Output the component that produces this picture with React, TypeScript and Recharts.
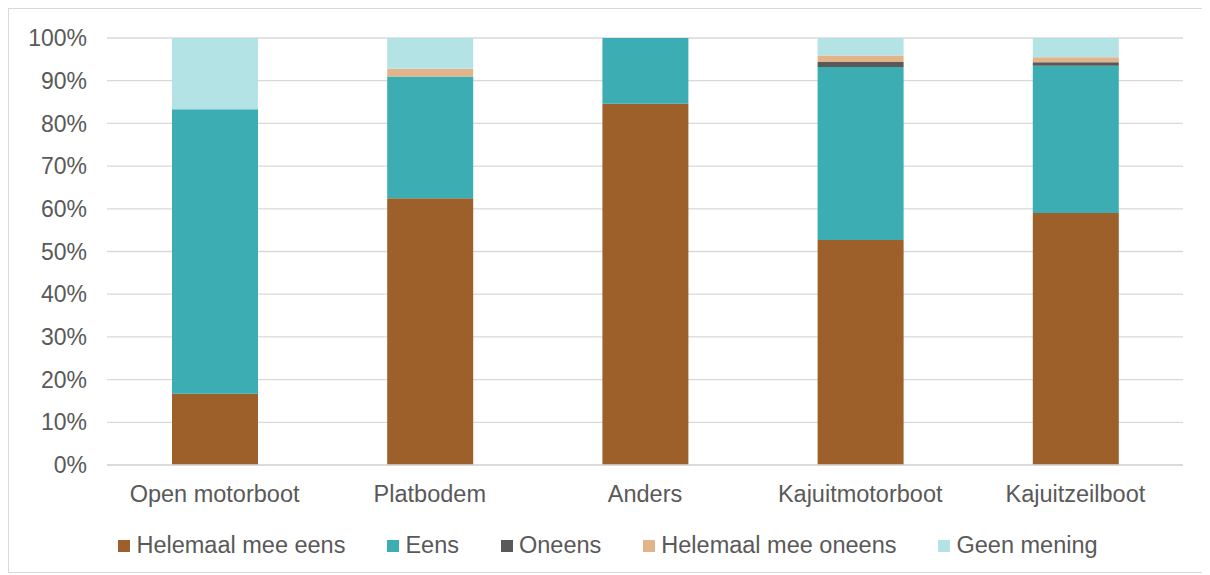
import React from "react";
import { BarChart, Bar, XAxis, YAxis, CartesianGrid, Legend } from "recharts";

const categories = ["Open motorboot", "Platbodem", "Anders", "Kajuitmotorboot", "Kajuitzeilboot"];
const helemaalEens = [16.7, 62.5, 84.6, 52.7, 59.0];
const eens = [66.6, 28.5, 15.4, 40.5, 34.5];
const oneens = [0, 0, 0, 1.2, 0.8];
const helemaalOneens = [0, 1.8, 0, 1.5, 1.2];
const geenMening = [16.7, 7.2, 0, 4.1, 4.5];
const yTicks = [0, 10, 20, 30, 40, 50, 60, 70, 80, 90, 100];

const seriesNames = ["Helemaal mee eens", "Eens", "Oneens", "Helemaal mee oneens", "Geen mening"];
const colors = ["#9E602A", "#3BADB3", "#595959", "#E2B48C", "#B4E3E5"];
const keys = ["a", "b", "c", "d", "e"];

const data = categories.map((name, i) => ({
  name,
  a: helemaalEens[i],
  b: eens[i],
  c: oneens[i],
  d: helemaalOneens[i],
  e: geenMening[i],
}));

const font = "'Liberation Sans', Arial, sans-serif";
const textColor = "#595959";

const LegendContent = () => (
  <div
    style={{
      display: "flex",
      justifyContent: "center",
      alignItems: "center",
      gap: 42,
      fontFamily: font,
      fontSize: 23.5,
      color: textColor,
      paddingLeft: 24,
      paddingTop: 17,
    }}
  >
    {seriesNames.map((n, i) => (
      <div key={n} style={{ display: "flex", alignItems: "center" }}>
        <span style={{ display: "inline-block", width: 12, height: 12, background: colors[i], marginRight: 6 }} />
        <span>{n}</span>
      </div>
    ))}
  </div>
);

export default function App() {
  return (
    <div style={{ width: 1198, height: 563, border: "1px solid #D9D9D9", fontFamily: font }}>
      <BarChart
        width={1198}
        height={563}
        data={data}
        margin={{ top: 29, right: 24, bottom: 8, left: 0 }}
        barCategoryGap="20%"
      >
        <CartesianGrid vertical={false} stroke="#D9D9D9" strokeWidth={1.3} />
        <XAxis
          dataKey="name"
          tickLine={false}
          axisLine={{ stroke: "#D9D9D9", strokeWidth: 1.3 }}
          tick={{ fill: textColor, fontSize: 23.5, fontFamily: font }}
          tickMargin={14}
          height={50}
        />
        <YAxis
          domain={[0, 100]}
          ticks={yTicks}
          tickFormatter={(v) => `${v}%`}
          axisLine={false}
          tickLine={false}
          tickSize={0}
          tickMargin={20}
          width={98}
          interval={0}
          tick={{ fill: textColor, fontSize: 23, fontFamily: font }}
        />
        <Legend verticalAlign="bottom" content={<LegendContent />} wrapperStyle={{ height: 49 }} />
        {keys.map((k, i) => (
          <Bar
            key={k}
            dataKey={k}
            name={seriesNames[i]}
            stackId="s"
            fill={colors[i]}
            barSize={86}
            isAnimationActive={false}
          />
        ))}
      </BarChart>
    </div>
  );
}
